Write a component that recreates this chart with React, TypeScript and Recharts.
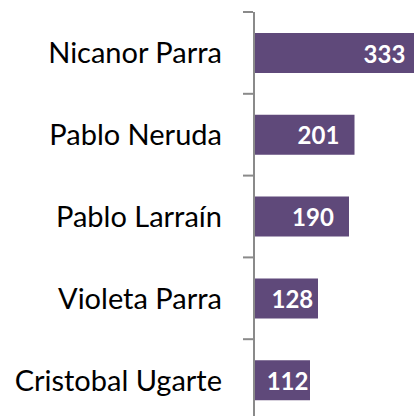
import React from 'react';
import { BarChart, Bar, XAxis, YAxis, LabelList } from 'recharts';

const categories = ['Nicanor Parra', 'Pablo Neruda', 'Pablo Larraín', 'Violeta Parra', 'Cristobal Ugarte'];
const values = [333, 201, 190, 128, 112];

const data = categories.map((name, i) => ({ name, value: values[i] }));

const CHART_W = 430;
const CHART_H = 421;
const MARGIN = { top: 12, right: 1, bottom: 0, left: 0 };
const AXIS_W = 254;
const BAND = (CHART_H - MARGIN.top - MARGIN.bottom) / categories.length;
const FONT = 'Lato, "Open Sans", sans-serif';

const CategoryTick = (props: any) => {
  const { y, payload, index } = props;
  const axisX = AXIS_W - 1;
  const isLast = index === categories.length - 1;
  return (
    <g>
      <line x1={axisX - 10} x2={axisX} y1={y - BAND / 2} y2={y - BAND / 2} stroke="#8a8a8a" strokeWidth={2} />
      {isLast && (
        <line x1={axisX - 10} x2={axisX} y1={y + BAND / 2} y2={y + BAND / 2} stroke="#8a8a8a" strokeWidth={2} />
      )}
      <text x={axisX - 31} y={y - 1} textAnchor="end" dominantBaseline="central" fill="#000" fontSize={29} fontFamily={FONT}>
        {payload.value}
      </text>
    </g>
  );
};

const ValueLabel = (props: any) => {
  const { x, y, width, height, value } = props;
  const cx = x + width - Math.min(36, 0.4 * width);
  return (
    <text x={cx} y={y + height / 2} textAnchor="middle" dominantBaseline="central" fill="#fff" fontWeight="bold" fontSize={24} fontFamily={FONT}>
      {value}
    </text>
  );
};

export default function App() {
  return (
    <div style={{ position: 'absolute', left: 0, top: 0, width: 414, height: 416, overflow: 'hidden', background: '#fff' }}>
      <BarChart width={CHART_W} height={CHART_H} data={data} layout="vertical" margin={MARGIN}>
        <XAxis type="number" domain={[0, 350]} hide />
        <YAxis
          type="category"
          dataKey="name"
          width={AXIS_W}
          tickLine={false}
          axisLine={{ stroke: '#8a8a8a', strokeWidth: 2 }}
          tick={<CategoryTick />}
          interval={0}
        />
        <Bar dataKey="value" fill="#5F497A" barSize={40} isAnimationActive={false}>
          <LabelList dataKey="value" content={<ValueLabel />} />
        </Bar>
      </BarChart>
    </div>
  );
}
